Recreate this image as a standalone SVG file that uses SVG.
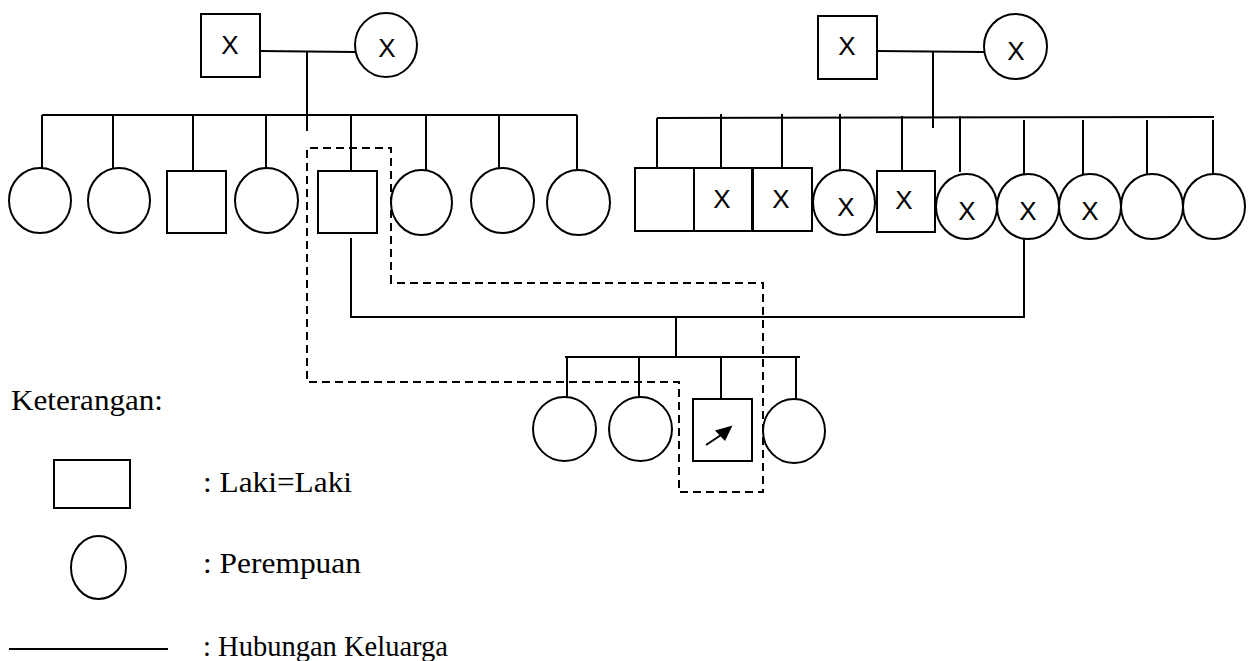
<svg xmlns="http://www.w3.org/2000/svg" width="1256" height="661" viewBox="0 0 1256 661">
  <style>
    .shape { fill: #ffffff; stroke: #000000; stroke-width: 2; }
    .link { fill: none; stroke: #000000; stroke-width: 2; }
    .trace { fill: none; stroke: #000000; stroke-width: 2; stroke-dasharray: 8 5; }
    .mark { font-family: "Liberation Sans", Arial, sans-serif; font-size: 26px; text-anchor: middle; fill: #000000; }
    .note { font-family: "Liberation Serif", "Times New Roman", serif; font-size: 29px; fill: #000000; }
  </style>
  <rect width="1256" height="661" fill="#ffffff"/>

  <!-- family lines -->
  <g id="connectors">
    <!-- left grandparents -->
    <path class="link" d="M260 51 L355 52"/>
    <path class="link" d="M307 51 V131"/>
    <path class="link" d="M42 115 H577"/>
    <path class="link" d="M42 115 V168 M113 115 V168 M193 115 V171 M266 115 V168 M351 115 V171 M426 115 V170 M499 115 V168 M577 115 V170"/>
    <!-- right grandparents -->
    <path class="link" d="M877 51 L984 52"/>
    <path class="link" d="M933 51 V128"/>
    <path class="link" d="M657 118 L1214 117"/>
    <path class="link" d="M657 118 V168 M721 114 V168 M782 114 V168 M840 114 V170 M902 116 V171 M960 116 V172 M1024 120 V174 M1083 120 V174 M1147 120 V174 M1213 120 V174"/>
    <!-- parents -->
    <path class="link" d="M351 238 V317 H1024 V239"/>
    <path class="link" d="M676 317 V357"/>
    <path class="link" d="M565 357 H800"/>
    <path class="link" d="M567 357 V397 M639 357 V397 M721 357 V399 M796 357 V399"/>
    <!-- lineage traces -->
    <path class="trace" d="M391 283 V148 H307 V382 H679 V492 H763 V283 Z"/>
  </g>

  <!-- left grandparents -->
  <g id="gp-left-father"><rect class="shape" x="201" y="14" width="59" height="63"/><text class="mark" x="230" y="54">X</text></g>
  <g id="gp-left-mother"><ellipse class="shape" cx="386" cy="45" rx="31" ry="32"/><text class="mark" x="387" y="57">X</text></g>

  <!-- left siblings -->
  <g id="l1"><ellipse class="shape" cx="40" cy="200.5" rx="31" ry="32.5"/></g>
  <g id="l2"><ellipse class="shape" cx="119" cy="200.5" rx="31" ry="32.5"/></g>
  <g id="l3"><rect class="shape" x="167" y="171" width="59" height="62"/></g>
  <g id="l4"><ellipse class="shape" cx="266.5" cy="200.5" rx="31.5" ry="32.5"/></g>
  <g id="l5-father"><rect class="shape" x="318" y="171" width="59" height="62"/></g>
  <g id="l6"><ellipse class="shape" cx="421.5" cy="202.5" rx="30.5" ry="32.5"/></g>
  <g id="l7"><ellipse class="shape" cx="502.5" cy="200.5" rx="31.5" ry="32.5"/></g>
  <g id="l8"><ellipse class="shape" cx="578.5" cy="202.5" rx="31.5" ry="32.5"/></g>

  <!-- right grandparents -->
  <g id="gp-right-father"><rect class="shape" x="818" y="16" width="59" height="63"/><text class="mark" x="847" y="55">X</text></g>
  <g id="gp-right-mother"><ellipse class="shape" cx="1015.5" cy="46.5" rx="31.5" ry="32.5"/><text class="mark" x="1016" y="60">X</text></g>

  <!-- right siblings -->
  <g id="r1"><rect class="shape" x="635" y="168" width="59" height="63"/></g>
  <g id="r2"><rect class="shape" x="694" y="168" width="58" height="63"/><text class="mark" x="722" y="208">X</text></g>
  <g id="r3"><rect class="shape" x="753" y="168" width="59" height="63"/><text class="mark" x="781" y="208">X</text></g>
  <g id="r4"><ellipse class="shape" cx="844" cy="202.5" rx="31" ry="32.5"/><text class="mark" x="846" y="216">X</text></g>
  <g id="r5"><rect class="shape" x="877" y="171" width="58" height="61"/><text class="mark" x="904" y="209">X</text></g>
  <g id="r6"><ellipse class="shape" cx="966.5" cy="206.5" rx="30.5" ry="32.5"/><text class="mark" x="967" y="220">X</text></g>
  <g id="r7-mother"><ellipse class="shape" cx="1028" cy="206.5" rx="31" ry="32.5"/><text class="mark" x="1028" y="220">X</text></g>
  <g id="r8"><ellipse class="shape" cx="1090" cy="206.5" rx="31" ry="32.5"/><text class="mark" x="1090" y="220">X</text></g>
  <g id="r9"><ellipse class="shape" cx="1152" cy="206.5" rx="31" ry="32.5"/></g>
  <g id="r10"><ellipse class="shape" cx="1214" cy="206.5" rx="31" ry="32.5"/></g>

  <!-- children -->
  <g id="c1"><ellipse class="shape" cx="564.5" cy="429" rx="31.5" ry="32"/></g>
  <g id="c2"><ellipse class="shape" cx="640.5" cy="429" rx="31.5" ry="32"/></g>
  <g id="c3-proband">
    <rect class="shape" x="693" y="399" width="59" height="62"/>
    <path class="link" d="M706 445 L721 435"/>
    <path d="M732.5 425.5 L715 430.5 L725 441 Z" fill="#000000"/>
  </g>
  <g id="c4"><ellipse class="shape" cx="794" cy="431" rx="31" ry="32"/></g>

  <!-- legend -->
  <g id="legend">
    <text class="note" x="11" y="410" textLength="152" lengthAdjust="spacingAndGlyphs">Keterangan:</text>
    <rect class="shape" x="54" y="460" width="76" height="48"/>
    <text class="note" x="203" y="492" textLength="149" lengthAdjust="spacingAndGlyphs">: Laki=Laki</text>
    <ellipse class="shape" cx="98.5" cy="567.5" rx="27.5" ry="31.5"/>
    <text class="note" x="203" y="573" textLength="158" lengthAdjust="spacingAndGlyphs">: Perempuan</text>
    <path class="link" d="M9 649 H168"/>
    <text class="note" x="203" y="656" textLength="245" lengthAdjust="spacingAndGlyphs">: Hubungan Keluarga</text>
  </g>
</svg>
